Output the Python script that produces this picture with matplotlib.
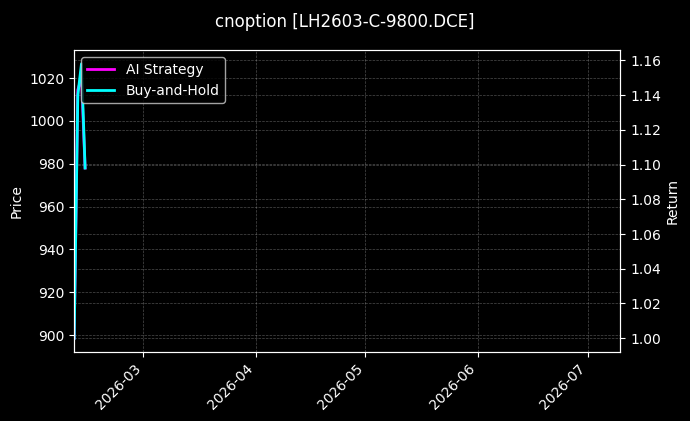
import numpy as np
import pandas as pd
import matplotlib
matplotlib.use("Agg")
import matplotlib.pyplot as plt
import matplotlib.dates as mdates

# data
dates = pd.to_datetime(["2026-02-10", "2026-02-11", "2026-02-12", "2026-02-13"])
price = [898.5, 1012.0, 1026.7, 979.0]
ai_return = [1.000, 1.143, 1.150, 1.098]
bh_return = [1.000, 1.140, 1.158, 1.098]
x_range = pd.to_datetime(["2026-02-10", "2026-07-10"])

title = "cnoption [LH2603-C-9800.DCE]"

plt.style.use("dark_background")
fig, ax1 = plt.subplots(figsize=(6.9, 4.21), dpi=100)
fig.subplots_adjust(left=0.1075, right=0.899, top=0.881, bottom=0.164)

ax1.plot(dates, price, color="white", linewidth=1, alpha=0.6)
ax1.set_ylabel("Price")
ax1.grid(True, linestyle="--", linewidth=0.5, alpha=0.3)

ax2 = ax1.twinx()
ax2.plot(dates, ai_return, color="magenta", linewidth=2, label="AI Strategy")
ax2.plot(dates, bh_return, color="cyan", linewidth=2, label="Buy-and-Hold")
ax2.set_ylabel("Return", labelpad=3)
ax2.grid(True, linestyle="--", linewidth=0.5, alpha=0.3)
ax2.set_yticks(np.arange(1.00, 1.161, 0.02))

ax1.set_xlim(x_range[0], x_range[1])
ax1.xaxis.set_major_locator(mdates.MonthLocator())
ax1.xaxis.set_major_formatter(mdates.DateFormatter("%Y-%m"))
plt.setp(ax1.get_xticklabels(), rotation=45, ha="right")

ax2.legend(loc="upper left")
fig.suptitle(title, fontsize=12, y=0.97)

fig.savefig("out.png", dpi=100)
